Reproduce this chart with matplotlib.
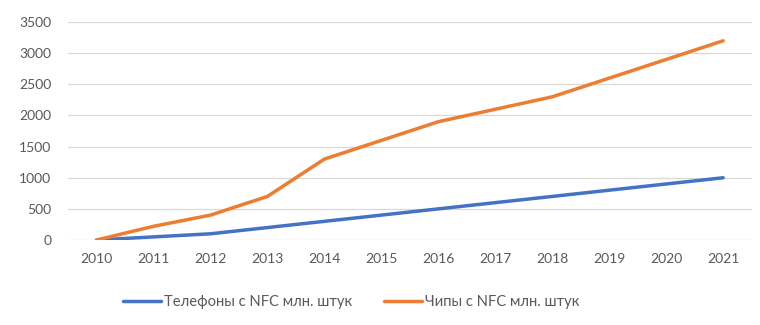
import matplotlib.pyplot as plt
import numpy as np

years = ["2010", "2011", "2012", "2013", "2014", "2015", "2016", "2017", "2018", "2019", "2020", "2021"]
phones = [0, 50, 100, 200, 300, 400, 500, 600, 700, 800, 900, 1000]
chips = [0, 220, 400, 700, 1300, 1600, 1900, 2100, 2300, 2600, 2900, 3200]

plt.rcParams["font.family"] = ["Lato", "DejaVu Sans"]

fig = plt.figure(figsize=(7.6, 3.25), dpi=100)
ax = fig.add_axes([0.0895, 0.2615, 0.8995, 0.6705])

x = np.arange(len(years))
ax.plot(x, phones, color="#4472C4", lw=2.5, solid_capstyle="round",
        solid_joinstyle="round", label="Телефоны с NFC млн. штук")
ax.plot(x, chips, color="#ED7D31", lw=2.5, solid_capstyle="round",
        solid_joinstyle="round", label="Чипы с NFC млн. штук")

ax.set_xlim(-0.5, len(years) - 0.5)
ax.set_ylim(0, 3500)
ax.set_yticks(np.arange(0, 3501, 500))
ax.set_xticks(x)
ax.set_xticklabels(years)
ax.grid(axis="y", color="#D9D9D9", lw=0.9)
ax.set_axisbelow(True)
for s in ax.spines.values():
    s.set_visible(False)
ax.tick_params(length=0, labelsize=10, colors="#595959", pad=9)
ax.tick_params(axis="y", pad=12)

fig.legend(loc="center", bbox_to_anchor=(0.462, 0.07), ncol=2, frameon=False,
           fontsize=10.6, handlelength=2.6, handletextpad=0.15, columnspacing=2.2,
           labelcolor="#595959")

fig.savefig("out.png", dpi=100)
